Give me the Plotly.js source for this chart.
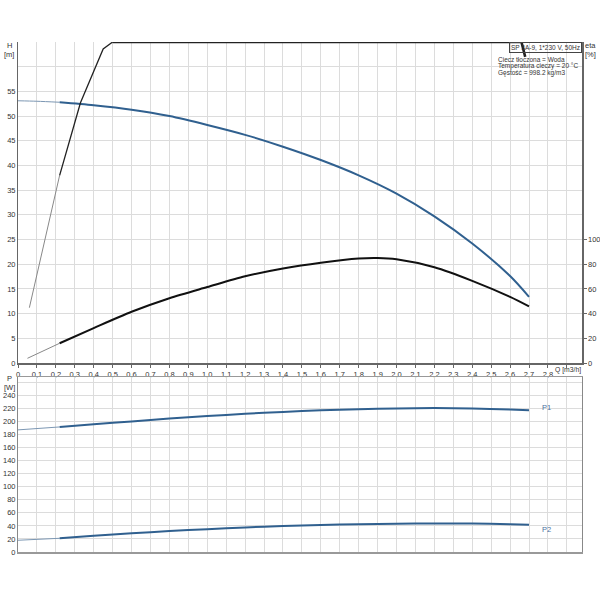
<!DOCTYPE html>
<html>
<head>
<meta charset="utf-8">
<script src="https://cdn.plot.ly/plotly-3.0.1.min.js"></script>
<style>
  body { margin: 0; background: #fff; }
  #chart { width: 600px; height: 600px; }
</style>
</head>
<body>
<div id="chart"></div>
<script>
// Q axis ticks
const qTicks = [0, 0.1, 0.2, 0.3, 0.4, 0.5, 0.6, 0.7, 0.8, 0.9, 1.0, 1.1, 1.2, 1.3, 1.4,
  1.5, 1.6, 1.7, 1.8, 1.9, 2.0, 2.1, 2.2, 2.3, 2.4, 2.5, 2.6, 2.7, 2.8, 2.9];
const qLabels = ["0", "0,1", "0,2", "0,3", "0,4", "0,5", "0,6", "0,7", "0,8", "0,9", "1,0", "1,1",
  "1,2", "1,3", "1,4", "1,5", "1,6", "1,7", "1,8", "1,9", "2,0", "2,1", "2,2", "2,3", "2,4",
  "2,5", "2,6", "2,7", "2,8", ""];

// H ticks (left, top chart)
const hTicks = [0, 5, 10, 15, 20, 25, 30, 35, 40, 45, 50, 55, 60];
const hLabels = ["0", "5", "10", "15", "20", "25", "30", "35", "40", "45", "50", "55", ""];
// eta ticks (right, top chart)
const etaTicks = [0, 20, 40, 60, 80, 100];
// P ticks (bottom chart)
const pTicks = [0, 20, 40, 60, 80, 100, 120, 140, 160, 180, 200, 220, 240, 260];
const pLabels = ["0", "20", "40", "60", "80", "100", "120", "140", "160", "180", "200", "220", "240", ""];

// pump curve H [m]
const qH = [0, 0.1, 0.22, 0.4, 0.6, 0.8, 1.0, 1.2, 1.4, 1.6, 1.8, 2.0, 2.2, 2.4, 2.6, 2.7];
const head = [53.1, 53.0, 52.8, 52.2, 51.3, 50.0, 48.2, 46.2, 43.8, 41.1, 38.0, 34.3, 29.7, 24.2, 17.6, 13.4];

// efficiency eta [%]
const qEta = [0.05, 0.22, 0.4, 0.6, 0.8, 1.0, 1.2, 1.4, 1.6, 1.8, 1.9, 2.0, 2.2, 2.4, 2.6, 2.7];
const eta = [3.8, 16, 28.3, 41.5, 52.5, 61.5, 70.2, 76.5, 81.2, 84.6, 85, 84, 77.5, 66.5, 53.5, 45.8];

// steep black curve (H axis, runs off the top)
const qSteep = [0.06, 0.22, 0.33, 0.45, 0.5, 2.66, 2.68];
const steep = [11.2, 38, 52.7, 63.6, 65, 65, 62];

// power P1, P2 [W]
const qP = [0, 0.22, 0.4, 0.6, 0.8, 1.0, 1.2, 1.4, 1.6, 1.8, 2.0, 2.2, 2.4, 2.6, 2.7];
const p1 = [187, 191.5, 195.5, 200, 204.3, 208.2, 211.6, 214.5, 216.9, 218.7, 219.9, 220.4, 219.8, 218.3, 217.2];
const p2 = [18, 21, 25, 28.7, 32, 35, 37.6, 39.7, 41.4, 42.6, 43.4, 43.8, 43.6, 42.6, 41.9];

const blue = '#30608f';
const thinBlue = '#7c97b3';
const txt = '#333';
const grid = '#dcdcdc';
const F = 'Liberation Sans, Arial, sans-serif';

const seg = (xs, ys, a, b) => ({ x: xs.slice(a, b), y: ys.slice(a, b) });

const line = (s, color, width, xa, ya, shape) => ({
  x: s.x, y: s.y, xaxis: xa, yaxis: ya, type: 'scatter', mode: 'lines',
  line: { color: color, width: width, shape: shape || 'spline', smoothing: 0.8 }, hoverinfo: 'skip'
});

const traces = [
  line(seg(qH, head, 0, 3), thinBlue, 1, 'x', 'y'),
  line(seg(qH, head, 2), blue, 2, 'x', 'y'),
  line(seg(qEta, eta, 0, 2), '#888', 1, 'x', 'y2'),
  line(seg(qEta, eta, 1), '#111', 2, 'x', 'y2'),
  line(seg(qSteep, steep, 0, 2), '#888', 1, 'x', 'y', 'linear'),
  line(seg(qSteep, steep, 1, 5), '#222', 1.3, 'x', 'y', 'linear'),
  line(seg(qSteep, steep, 4), '#222', 2.6, 'x', 'y', 'linear'),
  line(seg(qP, p1, 0, 2), thinBlue, 1, 'x2', 'y3'),
  line(seg(qP, p1, 1), blue, 2, 'x2', 'y3'),
  line(seg(qP, p2, 0, 2), thinBlue, 1, 'x2', 'y3'),
  line(seg(qP, p2, 1), blue, 2, 'x2', 'y3')
];

const tickFont = { family: F, size: 7.5, color: txt };
const smallFont = { family: F, size: 6.5, color: txt };
const L = 18, R = 18, T = 42, B = 48, W = 600, H = 600;
const px = v => (v - L) / (W - L - R);
const py = v => (H - B - v) / (H - T - B);

const label = (text, x, y, font, xanchor) => ({
  text: text, xref: 'paper', yref: 'paper', x: px(x), y: py(y),
  xanchor: xanchor || 'center', yanchor: 'middle', showarrow: false, font: font
});

const layout = {
  width: W, height: H,
  margin: { l: L, r: R, t: T, b: B },
  paper_bgcolor: '#fff', plot_bgcolor: '#fff',
  showlegend: false,
  font: { family: F, size: 7.5, color: txt },
  xaxis: {
    domain: [0, 1], anchor: 'y', range: [0, 2.98],
    tickvals: qTicks, ticktext: qLabels, tickfont: tickFont, tickangle: 0,
    showgrid: true, gridcolor: grid, gridwidth: 1, zeroline: false,
    showline: true, linecolor: '#666', linewidth: 1.5,
    ticks: 'outside', ticklen: 3, tickcolor: '#666'
  },
  yaxis: {
    domain: [py(363), 1], anchor: 'x', range: [0, 65],
    tickvals: hTicks, ticktext: hLabels, tickfont: tickFont,
    showgrid: true, gridcolor: grid, gridwidth: 1, zeroline: false,
    showline: true, linecolor: '#666', linewidth: 1, ticks: ''
  },
  yaxis2: {
    overlaying: 'y', side: 'right', anchor: 'x', range: [0, 260],
    tickvals: etaTicks, tickfont: tickFont,
    showgrid: false, zeroline: false,
    showline: true, linecolor: '#666', linewidth: 1.5,
    ticks: 'outside', ticklen: 3, tickcolor: '#666'
  },
  xaxis2: {
    domain: [0, 1], anchor: 'y3', range: [0, 2.98],
    tickvals: qTicks, showticklabels: false,
    showgrid: true, gridcolor: grid, gridwidth: 1, zeroline: false,
    showline: true, mirror: true, linecolor: '#999', linewidth: 1.5, ticks: ''
  },
  yaxis3: {
    domain: [0, py(377)], anchor: 'x2', range: [0, 268],
    tickvals: pTicks, ticktext: pLabels, tickfont: tickFont,
    showgrid: true, gridcolor: grid, gridwidth: 1, zeroline: false,
    showline: true, mirror: true, linecolor: '#888', linewidth: 1, ticks: ''
  },
  annotations: [
    label('H', 9, 46, tickFont),
    label('[m]', 9, 54, tickFont),
    label('eta', 590, 46, tickFont),
    label('[%]', 590, 54, tickFont),
    label('P', 9, 378, tickFont),
    label('[W]', 9, 387, tickFont),
    label('Q [m3/h]', 553, 370, { family: F, size: 6.8, color: txt }, 'left'),
    { text: 'SP 3A-9, 1*230 V, 50Hz', xref: 'paper', yref: 'paper', x: 1, y: 1,
      xanchor: 'right', yanchor: 'top', showarrow: false, font: smallFont,
      bordercolor: '#444', borderwidth: 1, borderpad: 1, bgcolor: 'rgba(255,255,255,0)' },
    label('Ciecz tłoczona = Woda', 496, 59, smallFont, 'left'),
    label('Temperatura cieczy = 20 °C', 496, 66, smallFont, 'left'),
    label('Gęstość = 998.2 kg/m3', 496, 73, smallFont, 'left'),
    { text: 'P1', xref: 'x2', yref: 'y3', x: 2.79, y: 222, showarrow: false,
      font: { family: F, size: 7.5, color: '#4a72a0' } },
    { text: 'P2', xref: 'x2', yref: 'y3', x: 2.79, y: 34.5, showarrow: false,
      font: { family: F, size: 7.5, color: '#4a72a0' } }
  ]
};

Plotly.newPlot('chart', traces, layout, { displayModeBar: false, staticPlot: true });
</script>
</body>
</html>
